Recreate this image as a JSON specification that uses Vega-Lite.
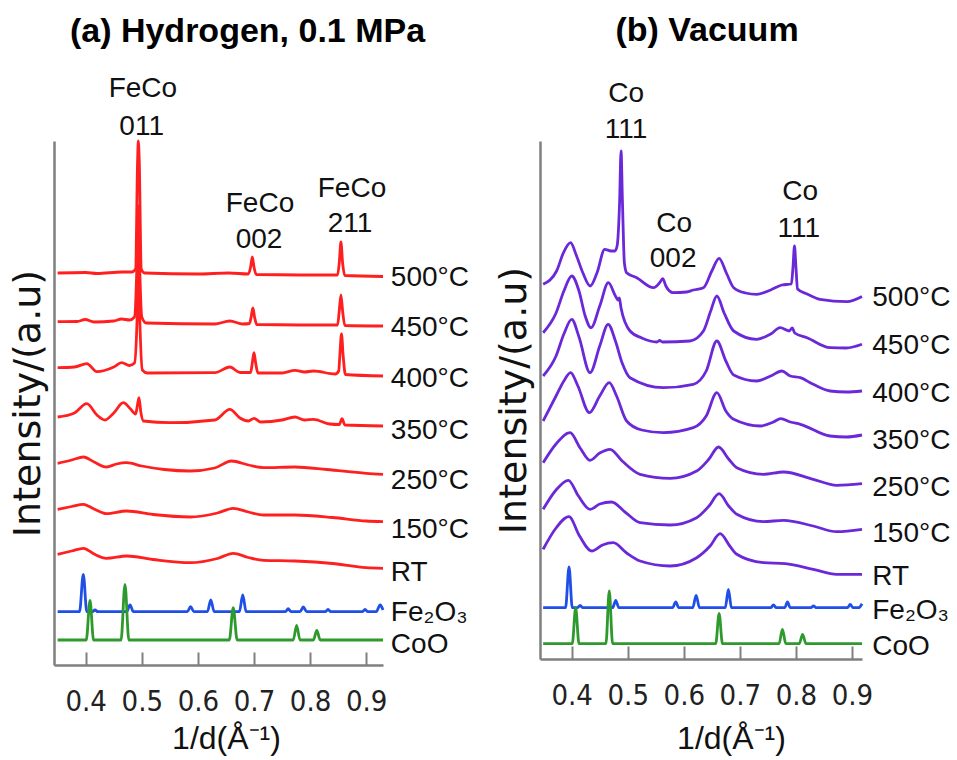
{
"$schema": "https://vega.github.io/schema/vega-lite/v6.json",
"padding": {"left": 9, "top": 14, "right": 5, "bottom": 5},
"bounds": "flush",
"spacing": 157,
"config": {"view": {"stroke": null}, "font": "Liberation Sans", "axis": {"grid": false, "domainColor": "#7f7f7f", "domainWidth": 2.5}},
"resolve": {"scale": {"color": "independent"}},
"datasets": {
"L": [
{"s":"500","x":0.350,"y":392},{"s":"500","x":0.400,"y":392.5},{"s":"500","x":0.420,"y":391.5},{"s":"500","x":0.465,"y":393},{"s":"500","x":0.482,"y":393},{"s":"500","x":0.489,"y":396},{"s":"500","x":0.4925,"y":504},{"s":"500","x":0.4938,"y":524},{"s":"500","x":0.4955,"y":504},{"s":"500","x":0.499,"y":396},{"s":"500","x":0.505,"y":392},{"s":"500","x":0.600,"y":391},{"s":"500","x":0.655,"y":392},{"s":"500","x":0.690,"y":391},{"s":"500","x":0.694,"y":398},{"s":"500","x":0.697,"y":408},{"s":"500","x":0.700,"y":398},{"s":"500","x":0.704,"y":390.5},{"s":"500","x":0.800,"y":390},{"s":"500","x":0.849,"y":390},{"s":"500","x":0.852,"y":402},{"s":"500","x":0.855,"y":423},{"s":"500","x":0.858,"y":402},{"s":"500","x":0.862,"y":389.5},{"s":"500","x":0.930,"y":388.5},
{"s":"450","x":0.350,"y":343.3},{"s":"450","x":0.385,"y":343.5},{"s":"450","x":0.399,"y":345.5},{"s":"450","x":0.415,"y":343},{"s":"450","x":0.450,"y":344},{"s":"450","x":0.464,"y":346},{"s":"450","x":0.478,"y":345},{"s":"450","x":0.487,"y":348},{"s":"450","x":0.4915,"y":404},{"s":"450","x":0.4938,"y":459},{"s":"450","x":0.496,"y":404},{"s":"450","x":0.500,"y":348},{"s":"450","x":0.508,"y":342},{"s":"450","x":0.630,"y":341},{"s":"450","x":0.657,"y":344},{"s":"450","x":0.680,"y":341},{"s":"450","x":0.692,"y":341.5},{"s":"450","x":0.695,"y":348},{"s":"450","x":0.698,"y":357},{"s":"450","x":0.701,"y":348},{"s":"450","x":0.705,"y":340.5},{"s":"450","x":0.800,"y":340},{"s":"450","x":0.849,"y":340},{"s":"450","x":0.852,"y":354},{"s":"450","x":0.855,"y":370},{"s":"450","x":0.858,"y":354},{"s":"450","x":0.862,"y":339.5},{"s":"450","x":0.930,"y":339},
{"s":"400","x":0.350,"y":297.3},{"s":"400","x":0.380,"y":298},{"s":"400","x":0.402,"y":301.3},{"s":"400","x":0.420,"y":293.3},{"s":"400","x":0.450,"y":298},{"s":"400","x":0.464,"y":302.3},{"s":"400","x":0.478,"y":299.5},{"s":"400","x":0.487,"y":302},{"s":"400","x":0.4915,"y":344},{"s":"400","x":0.494,"y":399},{"s":"400","x":0.4965,"y":344},{"s":"400","x":0.501,"y":295},{"s":"400","x":0.510,"y":292},{"s":"400","x":0.630,"y":292.3},{"s":"400","x":0.657,"y":298},{"s":"400","x":0.675,"y":292.5},{"s":"400","x":0.694,"y":292.5},{"s":"400","x":0.697,"y":302},{"s":"400","x":0.700,"y":312.3},{"s":"400","x":0.703,"y":302},{"s":"400","x":0.707,"y":292},{"s":"400","x":0.750,"y":292},{"s":"400","x":0.773,"y":294.7},{"s":"400","x":0.790,"y":293},{"s":"400","x":0.806,"y":294},{"s":"400","x":0.845,"y":291},{"s":"400","x":0.851,"y":294},{"s":"400","x":0.853,"y":309},{"s":"400","x":0.856,"y":331},{"s":"400","x":0.859,"y":309},{"s":"400","x":0.863,"y":290.5},{"s":"400","x":0.930,"y":289},
{"s":"350","x":0.350,"y":248},{"s":"350","x":0.380,"y":252},{"s":"350","x":0.402,"y":261.3},{"s":"350","x":0.420,"y":250},{"s":"350","x":0.4345,"y":245},{"s":"350","x":0.450,"y":252},{"s":"350","x":0.467,"y":262.3},{"s":"350","x":0.480,"y":256},{"s":"350","x":0.489,"y":251},{"s":"350","x":0.492,"y":259},{"s":"350","x":0.495,"y":267.3},{"s":"350","x":0.498,"y":254},{"s":"350","x":0.503,"y":244},{"s":"350","x":0.550,"y":242.3},{"s":"350","x":0.630,"y":245},{"s":"350","x":0.657,"y":255.7},{"s":"350","x":0.675,"y":247},{"s":"350","x":0.690,"y":244},{"s":"350","x":0.700,"y":246.7},{"s":"350","x":0.712,"y":243},{"s":"350","x":0.750,"y":245},{"s":"350","x":0.773,"y":248},{"s":"350","x":0.790,"y":245},{"s":"350","x":0.806,"y":245.7},{"s":"350","x":0.835,"y":241},{"s":"350","x":0.852,"y":240.5},{"s":"350","x":0.857,"y":246.3},{"s":"350","x":0.862,"y":240},{"s":"350","x":0.930,"y":239},
{"s":"250","x":0.350,"y":201.7},{"s":"250","x":0.375,"y":205},{"s":"250","x":0.396,"y":208},{"s":"250","x":0.415,"y":203},{"s":"250","x":0.437,"y":198},{"s":"250","x":0.455,"y":201},{"s":"250","x":0.473,"y":202.3},{"s":"250","x":0.500,"y":199},{"s":"250","x":0.540,"y":195.5},{"s":"250","x":0.586,"y":194},{"s":"250","x":0.630,"y":197},{"s":"250","x":0.660,"y":204},{"s":"250","x":0.690,"y":200},{"s":"250","x":0.717,"y":197.3},{"s":"250","x":0.773,"y":198},{"s":"250","x":0.830,"y":195.5},{"s":"250","x":0.900,"y":191.7},{"s":"250","x":0.930,"y":190.7},
{"s":"150","x":0.350,"y":155.7},{"s":"150","x":0.375,"y":158.5},{"s":"150","x":0.396,"y":160.7},{"s":"150","x":0.415,"y":156},{"s":"150","x":0.437,"y":151.3},{"s":"150","x":0.473,"y":154},{"s":"150","x":0.520,"y":150.5},{"s":"150","x":0.586,"y":148},{"s":"150","x":0.635,"y":152},{"s":"150","x":0.663,"y":156.7},{"s":"150","x":0.690,"y":153},{"s":"150","x":0.717,"y":150},{"s":"150","x":0.773,"y":150},{"s":"150","x":0.840,"y":147.5},{"s":"150","x":0.900,"y":144},{"s":"150","x":0.930,"y":143.3},
{"s":"RT","x":0.350,"y":110.7},{"s":"RT","x":0.375,"y":114},{"s":"RT","x":0.396,"y":116.7},{"s":"RT","x":0.415,"y":111},{"s":"RT","x":0.437,"y":106.7},{"s":"RT","x":0.473,"y":109},{"s":"RT","x":0.520,"y":105.5},{"s":"RT","x":0.586,"y":102.3},{"s":"RT","x":0.635,"y":106.5},{"s":"RT","x":0.663,"y":111.7},{"s":"RT","x":0.690,"y":107.5},{"s":"RT","x":0.717,"y":104.7},{"s":"RT","x":0.773,"y":104},{"s":"RT","x":0.840,"y":101.5},{"s":"RT","x":0.900,"y":97.3},{"s":"RT","x":0.930,"y":96.7},
{"s":"Fe","x":0.350,"y":53.3},{"s":"Fe","x":0.389,"y":53.3},{"s":"Fe","x":0.3957,"y":90.7},{"s":"Fe","x":0.402,"y":53.3},{"s":"Fe","x":0.4116,"y":53.3},{"s":"Fe","x":0.4166,"y":55},{"s":"Fe","x":0.4216,"y":53.3},{"s":"Fe","x":0.473,"y":53.3},{"s":"Fe","x":0.479,"y":60},{"s":"Fe","x":0.485,"y":53.3},{"s":"Fe","x":0.581,"y":53.3},{"s":"Fe","x":0.587,"y":58.3},{"s":"Fe","x":0.593,"y":53.3},{"s":"Fe","x":0.617,"y":53.3},{"s":"Fe","x":0.623,"y":65},{"s":"Fe","x":0.629,"y":53.3},{"s":"Fe","x":0.674,"y":53.3},{"s":"Fe","x":0.680,"y":70},{"s":"Fe","x":0.686,"y":53.3},{"s":"Fe","x":0.756,"y":53.3},{"s":"Fe","x":0.761,"y":56.3},{"s":"Fe","x":0.766,"y":53.3},{"s":"Fe","x":0.782,"y":53.3},{"s":"Fe","x":0.788,"y":58},{"s":"Fe","x":0.794,"y":53.3},{"s":"Fe","x":0.827,"y":53.3},{"s":"Fe","x":0.832,"y":55.5},{"s":"Fe","x":0.837,"y":53.3},{"s":"Fe","x":0.893,"y":53.3},{"s":"Fe","x":0.898,"y":55.5},{"s":"Fe","x":0.903,"y":53.3},{"s":"Fe","x":0.918,"y":53.3},{"s":"Fe","x":0.925,"y":60},{"s":"Fe","x":0.930,"y":55},
{"s":"Co","x":0.350,"y":25},{"s":"Co","x":0.401,"y":25},{"s":"Co","x":0.4077,"y":64.7},{"s":"Co","x":0.414,"y":25},{"s":"Co","x":0.463,"y":25},{"s":"Co","x":0.470,"y":80.7},{"s":"Co","x":0.477,"y":25},{"s":"Co","x":0.656,"y":25},{"s":"Co","x":0.663,"y":57.3},{"s":"Co","x":0.670,"y":25},{"s":"Co","x":0.770,"y":25},{"s":"Co","x":0.776,"y":39.7},{"s":"Co","x":0.782,"y":25},{"s":"Co","x":0.806,"y":25},{"s":"Co","x":0.812,"y":34.7},{"s":"Co","x":0.818,"y":25},{"s":"Co","x":0.930,"y":25}
],
"R": [
{"s":"500","x":0.349,"y":374.7},{"s":"500","x":0.373,"y":388},{"s":"500","x":0.385,"y":406},{"s":"500","x":0.398,"y":416.3},{"s":"500","x":0.408,"y":404},{"s":"500","x":0.420,"y":386},{"s":"500","x":0.433,"y":373},{"s":"500","x":0.445,"y":386},{"s":"500","x":0.459,"y":409.7},{"s":"500","x":0.470,"y":408},{"s":"500","x":0.477,"y":408},{"s":"500","x":0.481,"y":413},{"s":"500","x":0.4855,"y":458},{"s":"500","x":0.488,"y":508},{"s":"500","x":0.4905,"y":458},{"s":"500","x":0.494,"y":396},{"s":"500","x":0.498,"y":386.3},{"s":"500","x":0.516,"y":381.3},{"s":"500","x":0.546,"y":371.3},{"s":"500","x":0.5565,"y":376},{"s":"500","x":0.5625,"y":380.3},{"s":"500","x":0.568,"y":373},{"s":"500","x":0.581,"y":366.3},{"s":"500","x":0.605,"y":367},{"s":"500","x":0.617,"y":369},{"s":"500","x":0.635,"y":371.3},{"s":"500","x":0.650,"y":388},{"s":"500","x":0.663,"y":400.7},{"s":"500","x":0.676,"y":386},{"s":"500","x":0.689,"y":371.3},{"s":"500","x":0.710,"y":366},{"s":"500","x":0.730,"y":364.7},{"s":"500","x":0.755,"y":369},{"s":"500","x":0.775,"y":374},{"s":"500","x":0.792,"y":375},{"s":"500","x":0.795,"y":393},{"s":"500","x":0.7975,"y":413},{"s":"500","x":0.800,"y":393},{"s":"500","x":0.803,"y":370},{"s":"500","x":0.820,"y":365},{"s":"500","x":0.843,"y":359.7},{"s":"500","x":0.891,"y":357.3},{"s":"500","x":0.918,"y":362.5},
{"s":"450","x":0.349,"y":326.3},{"s":"450","x":0.372,"y":346},{"s":"450","x":0.386,"y":368},{"s":"450","x":0.400,"y":383},{"s":"450","x":0.413,"y":368},{"s":"450","x":0.424,"y":343},{"s":"450","x":0.4345,"y":331.3},{"s":"450","x":0.450,"y":353},{"s":"450","x":0.4654,"y":376.3},{"s":"450","x":0.478,"y":363},{"s":"450","x":0.483,"y":359},{"s":"450","x":0.485,"y":361},{"s":"450","x":0.488,"y":351},{"s":"450","x":0.504,"y":328},{"s":"450","x":0.525,"y":321},{"s":"450","x":0.552,"y":317},{"s":"450","x":0.557,"y":318.5},{"s":"450","x":0.562,"y":317},{"s":"450","x":0.611,"y":318},{"s":"450","x":0.635,"y":328},{"s":"450","x":0.648,"y":348},{"s":"450","x":0.659,"y":363},{"s":"450","x":0.672,"y":346},{"s":"450","x":0.689,"y":328},{"s":"450","x":0.730,"y":319.7},{"s":"450","x":0.755,"y":325},{"s":"450","x":0.772,"y":331.3},{"s":"450","x":0.788,"y":328},{"s":"450","x":0.7935,"y":331},{"s":"450","x":0.798,"y":326},{"s":"450","x":0.820,"y":321.3},{"s":"450","x":0.861,"y":311.3},{"s":"450","x":0.890,"y":311},{"s":"450","x":0.918,"y":314.7},
{"s":"400","x":0.349,"y":283},{"s":"400","x":0.372,"y":303},{"s":"400","x":0.386,"y":325},{"s":"400","x":0.400,"y":339.7},{"s":"400","x":0.413,"y":322},{"s":"400","x":0.4327,"y":286.3},{"s":"400","x":0.450,"y":313},{"s":"400","x":0.465,"y":334.7},{"s":"400","x":0.478,"y":318},{"s":"400","x":0.490,"y":296},{"s":"400","x":0.504,"y":281.3},{"s":"400","x":0.5636,"y":271.3},{"s":"400","x":0.617,"y":274.7},{"s":"400","x":0.640,"y":288},{"s":"400","x":0.659,"y":318},{"s":"400","x":0.675,"y":298},{"s":"400","x":0.689,"y":284},{"s":"400","x":0.730,"y":278},{"s":"400","x":0.755,"y":283},{"s":"400","x":0.775,"y":288},{"s":"400","x":0.790,"y":283},{"s":"400","x":0.808,"y":281.3},{"s":"400","x":0.830,"y":275},{"s":"400","x":0.861,"y":268},{"s":"400","x":0.890,"y":267},{"s":"400","x":0.918,"y":268},
{"s":"350","x":0.349,"y":238},{"s":"350","x":0.372,"y":263},{"s":"350","x":0.386,"y":278},{"s":"350","x":0.398,"y":286.3},{"s":"350","x":0.411,"y":273},{"s":"350","x":0.4315,"y":246.3},{"s":"350","x":0.450,"y":263},{"s":"350","x":0.467,"y":276.3},{"s":"350","x":0.480,"y":263},{"s":"350","x":0.498,"y":238},{"s":"350","x":0.525,"y":229},{"s":"350","x":0.5636,"y":226.3},{"s":"350","x":0.617,"y":231.3},{"s":"350","x":0.640,"y":243},{"s":"350","x":0.659,"y":266.3},{"s":"350","x":0.675,"y":248},{"s":"350","x":0.689,"y":239.7},{"s":"350","x":0.737,"y":233},{"s":"350","x":0.760,"y":237},{"s":"350","x":0.773,"y":240.3},{"s":"350","x":0.790,"y":237},{"s":"350","x":0.808,"y":234.7},{"s":"350","x":0.861,"y":223},{"s":"350","x":0.890,"y":222},{"s":"350","x":0.918,"y":224},
{"s":"250","x":0.349,"y":196.3},{"s":"250","x":0.372,"y":215},{"s":"250","x":0.397,"y":226.3},{"s":"250","x":0.415,"y":211},{"s":"250","x":0.4327,"y":198.7},{"s":"250","x":0.450,"y":206},{"s":"250","x":0.4684,"y":209.7},{"s":"250","x":0.490,"y":198},{"s":"250","x":0.522,"y":184.7},{"s":"250","x":0.5755,"y":180.7},{"s":"250","x":0.623,"y":188},{"s":"250","x":0.645,"y":200},{"s":"250","x":0.662,"y":212},{"s":"250","x":0.680,"y":200},{"s":"250","x":0.6946,"y":191.3},{"s":"250","x":0.742,"y":184.7},{"s":"250","x":0.778,"y":187},{"s":"250","x":0.831,"y":179.7},{"s":"250","x":0.873,"y":173.7},{"s":"250","x":0.918,"y":175.3},
{"s":"150","x":0.349,"y":149.7},{"s":"150","x":0.372,"y":169},{"s":"150","x":0.394,"y":178.7},{"s":"150","x":0.412,"y":163},{"s":"150","x":0.4327,"y":149.7},{"s":"150","x":0.450,"y":155},{"s":"150","x":0.471,"y":157},{"s":"150","x":0.495,"y":147},{"s":"150","x":0.522,"y":136.3},{"s":"150","x":0.5755,"y":134},{"s":"150","x":0.623,"y":141.3},{"s":"150","x":0.645,"y":153},{"s":"150","x":0.663,"y":165.3},{"s":"150","x":0.680,"y":153},{"s":"150","x":0.6946,"y":144.7},{"s":"150","x":0.742,"y":137.3},{"s":"150","x":0.778,"y":138.7},{"s":"150","x":0.831,"y":133},{"s":"150","x":0.873,"y":127.3},{"s":"150","x":0.918,"y":129.7},
{"s":"RT","x":0.349,"y":109.7},{"s":"RT","x":0.372,"y":131},{"s":"RT","x":0.395,"y":142.3},{"s":"RT","x":0.414,"y":123},{"s":"RT","x":0.4357,"y":108},{"s":"RT","x":0.455,"y":114},{"s":"RT","x":0.474,"y":116.3},{"s":"RT","x":0.498,"y":106},{"s":"RT","x":0.522,"y":98},{"s":"RT","x":0.5755,"y":93},{"s":"RT","x":0.623,"y":101.3},{"s":"RT","x":0.647,"y":113},{"s":"RT","x":0.6648,"y":125.3},{"s":"RT","x":0.682,"y":113},{"s":"RT","x":0.6946,"y":104.7},{"s":"RT","x":0.742,"y":96.3},{"s":"RT","x":0.781,"y":95.3},{"s":"RT","x":0.831,"y":89.7},{"s":"RT","x":0.873,"y":84.7},{"s":"RT","x":0.918,"y":84.7},
{"s":"Fe","x":0.349,"y":51.3},{"s":"Fe","x":0.389,"y":51.3},{"s":"Fe","x":0.3952,"y":92},{"s":"Fe","x":0.401,"y":51.3},{"s":"Fe","x":0.410,"y":51.3},{"s":"Fe","x":0.415,"y":53.5},{"s":"Fe","x":0.420,"y":51.3},{"s":"Fe","x":0.473,"y":51.3},{"s":"Fe","x":0.4786,"y":58.7},{"s":"Fe","x":0.484,"y":51.3},{"s":"Fe","x":0.580,"y":51.3},{"s":"Fe","x":0.5857,"y":57},{"s":"Fe","x":0.591,"y":51.3},{"s":"Fe","x":0.616,"y":51.3},{"s":"Fe","x":0.622,"y":63.7},{"s":"Fe","x":0.628,"y":51.3},{"s":"Fe","x":0.674,"y":51.3},{"s":"Fe","x":0.6796,"y":69.7},{"s":"Fe","x":0.685,"y":51.3},{"s":"Fe","x":0.755,"y":51.3},{"s":"Fe","x":0.760,"y":54},{"s":"Fe","x":0.765,"y":51.3},{"s":"Fe","x":0.780,"y":51.3},{"s":"Fe","x":0.785,"y":57},{"s":"Fe","x":0.790,"y":51.3},{"s":"Fe","x":0.827,"y":51.3},{"s":"Fe","x":0.8315,"y":53},{"s":"Fe","x":0.836,"y":51.3},{"s":"Fe","x":0.892,"y":51.3},{"s":"Fe","x":0.897,"y":54.5},{"s":"Fe","x":0.902,"y":51.3},{"s":"Fe","x":0.912,"y":51.3},{"s":"Fe","x":0.918,"y":55.3},
{"s":"Co","x":0.349,"y":15.3},{"s":"Co","x":0.401,"y":15.3},{"s":"Co","x":0.407,"y":51.3},{"s":"Co","x":0.413,"y":15.3},{"s":"Co","x":0.461,"y":15.3},{"s":"Co","x":0.467,"y":68},{"s":"Co","x":0.473,"y":15.3},{"s":"Co","x":0.657,"y":15.3},{"s":"Co","x":0.663,"y":45.7},{"s":"Co","x":0.669,"y":15.3},{"s":"Co","x":0.770,"y":15.3},{"s":"Co","x":0.776,"y":29.7},{"s":"Co","x":0.782,"y":15.3},{"s":"Co","x":0.806,"y":15.3},{"s":"Co","x":0.812,"y":24.7},{"s":"Co","x":0.818,"y":15.3},{"s":"Co","x":0.918,"y":15.3}
],
"LL": [
{"t":"500°C","x":0.944,"y":387},{"t":"450°C","x":0.944,"y":337},{"t":"400°C","x":0.944,"y":286},{"t":"350°C","x":0.944,"y":234},{"t":"250°C","x":0.944,"y":184},{"t":"150°C","x":0.944,"y":135},{"t":"RT","x":0.944,"y":92},{"t":"Fe₂O₃","x":0.944,"y":52},{"t":"CoO","x":0.944,"y":20}
],
"LA": [
{"t":"FeCo","x":0.502,"y":576.5},{"t":"011","x":0.4998,"y":538},{"t":"FeCo","x":0.7107,"y":461},{"t":"002","x":0.709,"y":425},{"t":"FeCo","x":0.8747,"y":476.5},{"t":"211","x":0.8711,"y":441.5}
],
"RL": [
{"t":"500°C","x":0.9363,"y":361},{"t":"450°C","x":0.9363,"y":313},{"t":"400°C","x":0.9363,"y":265},{"t":"350°C","x":0.9363,"y":218},{"t":"250°C","x":0.9363,"y":171},{"t":"150°C","x":0.9363,"y":125},{"t":"RT","x":0.9363,"y":82},{"t":"Fe₂O₃","x":0.9363,"y":48},{"t":"CoO","x":0.9363,"y":12}
],
"RA": [
{"t":"Co","x":0.497,"y":565},{"t":"111","x":0.497,"y":529},{"t":"Co","x":0.5827,"y":435},{"t":"002","x":0.5809,"y":400.5},{"t":"Co","x":0.8077,"y":467},{"t":"111","x":0.805,"y":430.5}
]
},
"hconcat": [
{
"width": 329, "height": 524,
"title": {"text": "(a) Hydrogen, 0.1 MPa", "font": "Liberation Sans", "fontSize": 34, "fontWeight": "bold", "color": "#000", "frame": "group", "anchor": "middle", "dx": 29, "offset": 26},
"encoding": {
"x": {"field": "x", "type": "quantitative", "scale": {"domain": [0.3435, 0.93], "nice": false, "zero": false},
"axis": {"values": [0.4,0.5,0.6,0.7,0.8,0.9], "format": ".1f", "tickSize": -13, "tickColor": "#7f7f7f", "tickWidth": 2, "labelFont": "DejaVu Sans Condensed, Liberation Sans", "labelFontSize": 29, "labelColor": "#222", "labelPadding": 35, "labelFlush": false, "title": "1/d(Å⁻¹)", "titleFont": "Liberation Sans", "titleFontSize": 32, "titleFontWeight": "normal", "titleColor": "#111", "titleX": 172, "titleY": 73, "titleBaseline": "middle"}},
"y": {"field": "y", "type": "quantitative", "scale": {"domain": [0, 524], "nice": false, "zero": false},
"axis": {"labels": false, "ticks": false, "title": "Intensity/(a.u)", "titleFont": "DejaVu Sans", "titleFontSize": 38, "titleFontWeight": "normal", "titleColor": "#111", "titlePadding": 7}}
},
"layer": [
{"data": {"name": "L"}, "mark": {"type": "line", "interpolate": "monotone", "strokeWidth": 2.8},
"encoding": {"detail": {"field": "s"}, "color": {"field": "s", "type": "nominal", "legend": null,
"scale": {"domain": ["500","450","400","350","250","150","RT","Fe","Co"], "range": ["#ff1f1f","#ff1f1f","#ff1f1f","#ff1f1f","#ff1f1f","#ff1f1f","#ff1f1f","#1f4fe6","#2e9a2e"]}}}},
{"data": {"name": "LL"}, "mark": {"type": "text", "align": "left", "baseline": "middle", "fontSize": 28, "font": "Liberation Sans", "color": "#111"}, "encoding": {"text": {"field": "t"}}},
{"data": {"name": "LA"}, "mark": {"type": "text", "align": "center", "baseline": "middle", "fontSize": 28, "font": "Liberation Sans", "color": "#111"}, "encoding": {"text": {"field": "t"}}}
]
},
{
"width": 322, "height": 518,
"title": {"text": "(b) Vacuum", "font": "Liberation Sans", "fontSize": 34, "fontWeight": "bold", "color": "#000", "frame": "group", "anchor": "middle", "dx": 6, "offset": 32},
"encoding": {
"x": {"field": "x", "type": "quantitative", "scale": {"domain": [0.3434, 0.918], "nice": false, "zero": false},
"axis": {"values": [0.4,0.5,0.6,0.7,0.8,0.9], "format": ".1f", "tickSize": -13, "tickColor": "#7f7f7f", "tickWidth": 2, "labelFont": "DejaVu Sans Condensed, Liberation Sans", "labelFontSize": 29, "labelColor": "#222", "labelPadding": 35, "labelFlush": false, "title": "1/d(Å⁻¹)", "titleFont": "Liberation Sans", "titleFontSize": 32, "titleFontWeight": "normal", "titleColor": "#111", "titleX": 191, "titleY": 79, "titleBaseline": "middle"}},
"y": {"field": "y", "type": "quantitative", "scale": {"domain": [0, 518], "nice": false, "zero": false},
"axis": {"labels": false, "ticks": false, "title": "Intensity/(a.u)", "titleFont": "DejaVu Sans", "titleFontSize": 38, "titleFontWeight": "normal", "titleColor": "#111", "titlePadding": 7}}
},
"layer": [
{"data": {"name": "R"}, "mark": {"type": "line", "interpolate": "monotone", "strokeWidth": 2.8},
"encoding": {"detail": {"field": "s"}, "color": {"field": "s", "type": "nominal", "legend": null,
"scale": {"domain": ["500","450","400","350","250","150","RT","Fe","Co"], "range": ["#6a28d8","#6a28d8","#6a28d8","#6a28d8","#6a28d8","#6a28d8","#6a28d8","#1f4fe6","#2e9a2e"]}}}},
{"data": {"name": "RL"}, "mark": {"type": "text", "align": "left", "baseline": "middle", "fontSize": 28, "font": "Liberation Sans", "color": "#111"}, "encoding": {"text": {"field": "t"}}},
{"data": {"name": "RA"}, "mark": {"type": "text", "align": "center", "baseline": "middle", "fontSize": 28, "font": "Liberation Sans", "color": "#111"}, "encoding": {"text": {"field": "t"}}}
]
}
]
}
